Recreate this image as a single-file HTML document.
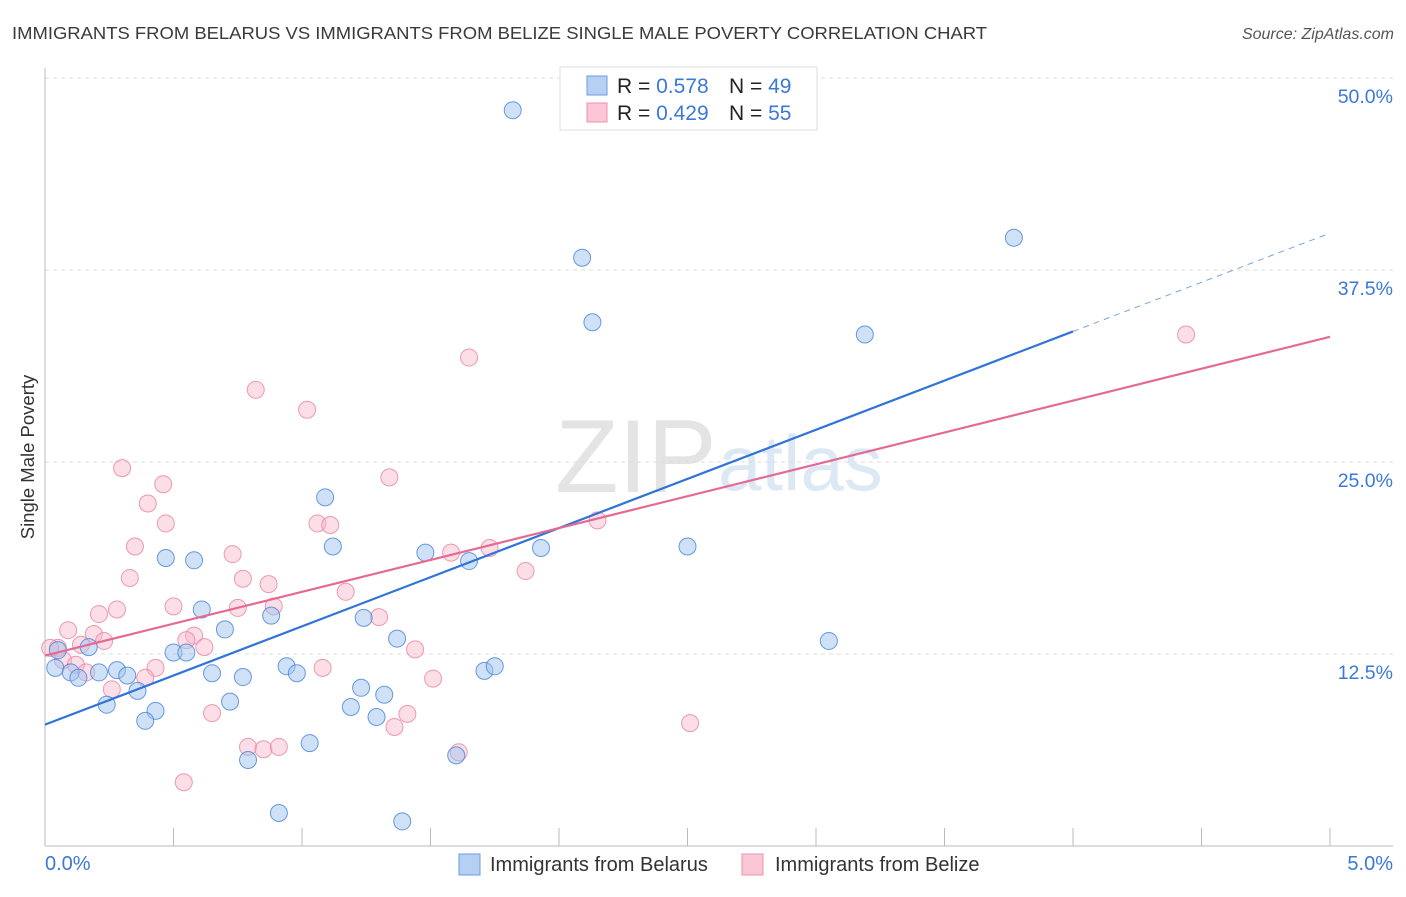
<!DOCTYPE html>
<html><head><meta charset="utf-8"><style>
body{margin:0;background:#fff;font-family:"Liberation Sans",sans-serif;}
svg text{font-family:"Liberation Sans",sans-serif;}
</style></head><body>
<svg id="chart" width="1406" height="892" viewBox="0 0 1406 892" xmlns="http://www.w3.org/2000/svg">
<text x="12" y="39" font-size="17.5" fill="#3a3a3a" textLength="975" lengthAdjust="spacingAndGlyphs">IMMIGRANTS FROM BELARUS VS IMMIGRANTS FROM BELIZE SINGLE MALE POVERTY CORRELATION CHART</text>
<text x="1394" y="39" font-size="16" fill="#555" text-anchor="end" font-style="italic">Source: ZipAtlas.com</text>
<text x="555" y="492" font-size="104" fill="#e4e4e4" font-family="Liberation Serif">ZIP</text>
<text x="718" y="490" font-size="78" fill="#dde8f5">atlas</text>
<g id="grid"></g>
<g id="axes"></g>
<g id="pts"></g>
<g id="trends"></g>
<text transform="translate(34,457) rotate(-90)" font-size="18.5" fill="#333" text-anchor="middle">Single Male Poverty</text>
<g>
<rect x="560" y="67" width="257" height="63" fill="#fff" stroke="#ddd"/>
<rect x="587" y="76" width="20" height="19" fill="#b6d0f3" stroke="#6c9be0"/>
<rect x="587" y="103" width="20" height="19" fill="#fbc6d5" stroke="#ec93ae"/>
<text x="617" y="93" font-size="21" fill="#222">R = <tspan fill="#3b78d8">0.578</tspan></text>
<text x="729" y="93" font-size="21" fill="#222">N = <tspan fill="#3b78d8">49</tspan></text>
<text x="617" y="120" font-size="21" fill="#222">R = <tspan fill="#3b78d8">0.429</tspan></text>
<text x="729" y="120" font-size="21" fill="#222">N = <tspan fill="#3b78d8">55</tspan></text>
</g>
<g>
<rect x="459" y="854" width="21" height="21" fill="#b6d0f3" stroke="#6c9be0"/>
<text x="490" y="871" font-size="20" fill="#333">Immigrants from Belarus</text>
<rect x="742" y="854" width="21" height="21" fill="#fbc6d5" stroke="#ec93ae"/>
<text x="775" y="871" font-size="20" fill="#333">Immigrants from Belize</text>
</g>
</svg>
<script>
const xTickLabels=["0.0%","5.0%"];
const yTicks=[12.5,25,37.5,50];
const yTickLabels=["12.5%","25.0%","37.5%","50.0%"];
const belarusX=[1.82,2.09,2.13,3.77,3.19,1.09,1.12,0.47,0.58,1.48,1.65,1.93,2.50,0.61,0.88,0.70,1.24,1.37,3.05,0.17,0.50,0.55,0.05,0.04,0.10,0.13,0.21,0.28,0.32,0.65,0.77,0.94,0.98,1.71,1.75,0.36,0.24,0.43,0.39,0.72,1.19,1.23,1.32,1.29,1.03,0.79,1.60,0.91,1.39];
const belarusY=[47.9,38.3,34.1,39.6,33.3,22.7,19.5,18.75,18.6,19.1,18.55,19.4,19.5,15.4,15.0,14.1,14.85,13.5,13.35,12.95,12.6,12.6,12.75,11.6,11.3,10.95,11.3,11.45,11.1,11.25,11.0,11.7,11.25,11.4,11.7,10.1,9.2,8.8,8.15,9.4,9.05,10.3,9.85,8.4,6.7,5.6,5.9,2.15,1.6];
const belizeX=[0.30,0.46,0.40,0.47,0.35,0.73,0.82,1.02,1.65,1.34,1.06,1.11,2.15,1.58,1.73,1.87,0.33,0.77,0.87,1.17,0.50,0.75,0.89,0.21,0.28,1.30,0.09,0.19,0.58,0.55,0.62,1.44,0.05,0.02,0.14,0.23,0.07,0.12,0.16,0.43,1.08,0.26,0.39,1.51,0.65,1.41,1.36,2.51,0.79,0.85,0.91,1.61,0.54,4.44,2.85];
const belizeY=[24.6,23.55,22.3,21.0,19.5,19.0,29.7,28.4,31.8,24.0,21.0,20.9,21.2,19.1,19.4,17.9,17.45,17.4,17.05,16.55,15.6,15.5,15.6,15.1,15.4,14.9,14.05,13.8,13.7,13.4,12.95,12.8,12.9,12.9,13.1,13.35,12.1,11.8,11.3,11.6,11.6,10.2,10.95,10.9,8.65,8.6,7.75,8.0,6.45,6.3,6.45,6.1,4.15,33.3,47.5];
const belarusTrend=[7.9,39.9];
const belizeTrend=[12.4,33.15];
const X=v=>45+v*257;
const Y=v=>846-v*15.36;
const NS="http://www.w3.org/2000/svg";
function mk(tag,attrs,parent){const e=document.createElementNS(NS,tag);for(const k in attrs)e.setAttribute(k,attrs[k]);parent.appendChild(e);return e;}
const grid=document.getElementById('grid'),axes=document.getElementById('axes'),pts=document.getElementById('pts'),tr=document.getElementById('trends');
yTicks.forEach((t,i)=>{
 const l=mk('line',{x1:45,x2:1393,y1:Y(t),y2:Y(t),stroke:'#ddd','stroke-dasharray':'4,4'},grid);
 
 
 const tx=mk('text',{x:1393,y:Y(t)+25,'font-size':19.5,fill:'#3b78d8','text-anchor':'end'},axes);
 tx.textContent=yTickLabels[i];
 
 
});
mk('line',{x1:45,x2:45,y1:68,y2:846,stroke:'#bbb'},axes);
mk('line',{x1:45,x2:1393,y1:846,y2:846,stroke:'#bbb'},axes);
for(let i=0;i<=10;i++){const t=mk('line',{x1:X(i*0.5),x2:X(i*0.5),y1:828,y2:846,stroke:'#bbb'},axes);
 
 }
[[0,'start',45],[1,'end',1393]].forEach(([i,a,x])=>{const t=mk('text',{x:x,y:870,'font-size':20,fill:'#3b78d8','text-anchor':a},axes);t.textContent=xTickLabels[i];
 
 });
function dots(xs,ys,fill,stroke,name){xs.forEach((x,i)=>{const c=mk('circle',{cx:X(x),cy:Y(ys[i]),r:8.5,fill:fill,stroke:stroke,'stroke-width':1},pts);
 
 });}
dots(belizeX,belizeY,'rgba(248,182,202,0.45)','rgba(232,130,160,0.8)','belize-point');
dots(belarusX,belarusY,'rgba(160,196,240,0.5)','rgba(70,130,215,0.8)','belarus-point');
const bx=4.0,by=belarusTrend[0]+(belarusTrend[1]-belarusTrend[0])*bx/5;
let l1=mk('line',{x1:X(0),y1:Y(belarusTrend[0]),x2:X(bx),y2:Y(by),stroke:'#2f74d6','stroke-width':2.2},tr);


let l2=mk('line',{x1:X(bx),y1:Y(by),x2:X(5),y2:Y(belarusTrend[1]),stroke:'#7aa3e0','stroke-width':1,'stroke-dasharray':'6,5'},tr);


let l3=mk('line',{x1:X(0),y1:Y(belizeTrend[0]),x2:X(5),y2:Y(belizeTrend[1]),stroke:'#e56a93','stroke-width':2.2},tr);


</script>
</body></html>
